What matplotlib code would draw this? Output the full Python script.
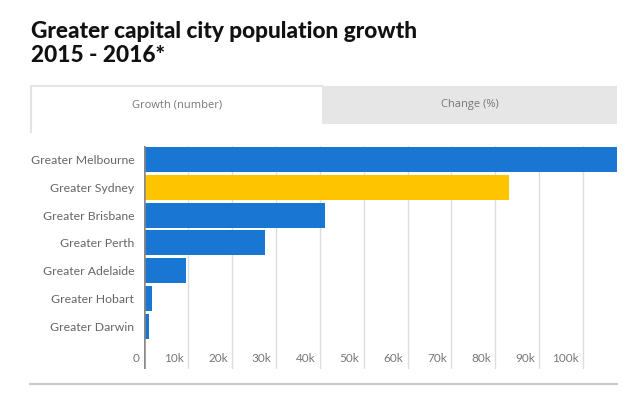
import matplotlib
matplotlib.use("Agg")
import matplotlib.pyplot as plt
from matplotlib.patches import Rectangle
from matplotlib.lines import Line2D
import matplotlib.transforms as mtransforms

cities = [
    "Greater Melbourne",
    "Greater Sydney",
    "Greater Brisbane",
    "Greater Perth",
    "Greater Adelaide",
    "Greater Hobart",
    "Greater Darwin",
]
growth = [107700, 83100, 41200, 27600, 9500, 1900, 1200]
bar_colors = ["#1976d2", "#ffc400", "#1976d2", "#1976d2", "#1976d2", "#1976d2", "#1976d2"]
tick_values = [0, 10000, 20000, 30000, 40000, 50000, 60000, 70000, 80000, 90000, 100000]
tick_labels = ["0", "10k", "20k", "30k", "40k", "50k", "60k", "70k", "80k", "90k", "100k"]
tabs = ["Growth (number)", "Change (%)"]

W, H = 640, 401
fig = plt.figure(figsize=(6.4, 4.01), dpi=100)
fig.patch.set_facecolor("white")


def fx(px):
    return px / W


def fy(py):
    return 1 - py / H


# title
fig.text(fx(31), fy(38), "Greater capital city population growth", fontsize=16.3,
         fontweight="black", family="Lato", color="#111111", va="baseline")
fig.text(fx(31), fy(62), "2015 - 2016*", fontsize=16.3,
         fontweight="black", family="Lato", color="#111111", va="baseline")

# tabs
fig.patches.append(Rectangle((fx(322), fy(124)), fx(617) - fx(322), fy(86) - fy(124),
                             transform=fig.transFigure, facecolor="#e6e6e6",
                             edgecolor="none", zorder=0))
fig.lines.append(Line2D([fx(31), fx(31), fx(322)], [fy(132), fy(86), fy(86)],
                        transform=fig.transFigure, color="#e4e4e4", linewidth=1.5))
fig.text(fx(177), fy(105), tabs[0], fontsize=8, color="#777777",
         ha="center", va="center", family="Open Sans")
fig.text(fx(470), fy(105), tabs[1], fontsize=8, color="#777777",
         ha="center", va="center", family="Open Sans")

# bottom rule
fig.lines.append(Line2D([fx(30), fx(617)], [fy(384), fy(384)], transform=fig.transFigure,
                        color="#c8c8c8", linewidth=1.5))

# chart
ax = fig.add_axes([fx(144), fy(369), fx(617) - fx(144), fy(146) - fy(369)])
y = list(range(len(cities)))
ax.barh(y, growth, height=0.9, color=bar_colors, zorder=2)
ax.set_xlim(0, 107700)
ax.set_ylim(7.55, -0.5)

for v in tick_values[1:]:
    ax.axvline(v, color="#dddddd", linewidth=1, zorder=1)
ax.axvline(0, color="#888888", linewidth=1.8, zorder=3)

off = mtransforms.offset_copy(ax.transData, fig=fig, x=-3, y=0, units="points")
for v, lab in zip(tick_values, tick_labels):
    ax.text(v, 7.16, lab, transform=off, ha="right", va="center",
            fontsize=8.5, color="#777777", family="Lato")

ax.set_yticks(y)
ax.set_yticklabels(cities, fontsize=8.8, color="#666666", family="Lato")
ax.tick_params(axis="y", length=0, pad=7)
ax.set_xticks([])
for s in ax.spines.values():
    s.set_visible(False)
ax.set_facecolor("none")

fig.savefig("out.png", dpi=100, facecolor="white")
